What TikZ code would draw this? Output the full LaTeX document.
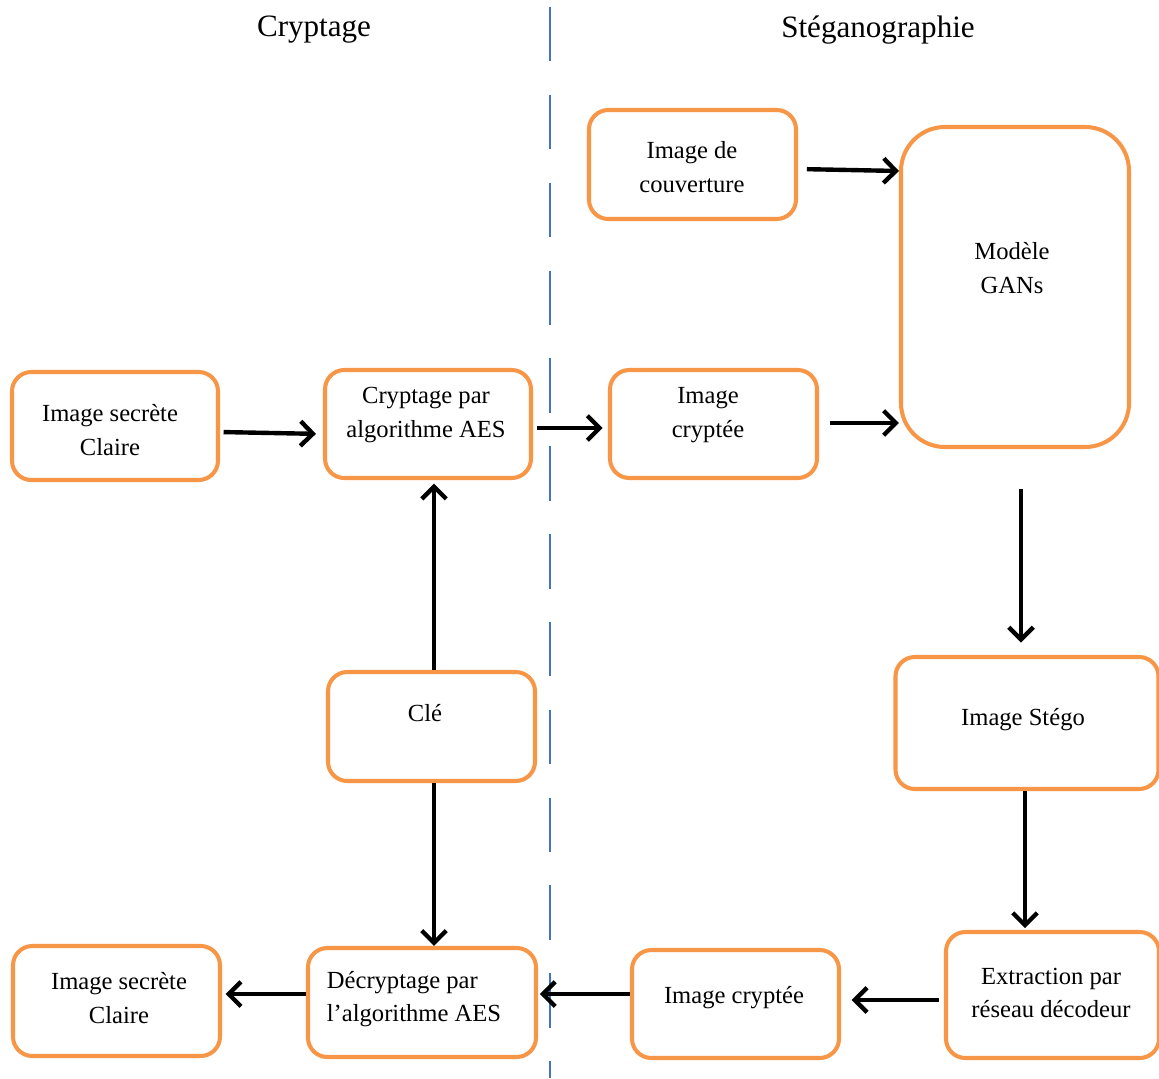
\documentclass[tikz,border=0pt]{standalone}
\usepackage{fontspec}
\setmainfont{Liberation Serif}
\usetikzlibrary{arrows.meta}
\definecolor{boxorange}{HTML}{F79646}
\definecolor{sepblue}{HTML}{4472C4}
\begin{document}
\begin{tikzpicture}[x=0.02cm,y=-0.02cm,
  box/.style={draw=boxorange, line width=2.3pt, rounded corners=11pt, fill=white, inner sep=0pt},
  txt/.style={font=\fontsize{14}{19}\selectfont, align=center, inner sep=0pt},
  ttl/.style={font=\fontsize{17.7}{21}\selectfont, inner sep=0pt},
  arr/.style={line width=2.5pt, -{Straight Barb[length=7pt,width=14pt,line width=2.5pt]}}]
\useasboundingbox (0,0) rectangle (1159,1078);
\fill[white] (0,0) rectangle (1159,1078);
% separator
\coordinate (septop) at (550,7);
\coordinate (sepbot) at (550,1078);
\draw[sepblue, line width=0.9pt, dash pattern=on 31pt off 19pt] (septop) -- (sepbot);
% titles
\node[ttl] (t1) at (314,30) {Cryptage};
\node[ttl] (t2) at (878,30) {Stéganographie};
% boxes
\node[box, minimum width=206*0.02cm, minimum height=108*0.02cm] (sec1) at (115,426) {};
\node[box, minimum width=206*0.02cm, minimum height=108*0.02cm] (crypt) at (428,424) {};
\node[box, minimum width=207*0.02cm, minimum height=108*0.02cm] (ctop) at (713.5,424) {};
\node[box, minimum width=207*0.02cm, minimum height=109*0.02cm] (couv) at (692.5,164.5) {};
\node[box, rounded corners=25pt, minimum width=228*0.02cm, minimum height=320*0.02cm] (gans) at (1015,287) {};
\node[box, minimum width=263*0.02cm, minimum height=132*0.02cm] (stego) at (1027,723) {};
\node[box, minimum width=213*0.02cm, minimum height=126*0.02cm] (extr) at (1052.5,995) {};
\node[box, minimum width=207*0.02cm, minimum height=108*0.02cm] (cbot) at (735.5,1004) {};
\node[box, minimum width=228*0.02cm, minimum height=109*0.02cm] (decr) at (422,1002.5) {};
\node[box, minimum width=207*0.02cm, minimum height=110*0.02cm] (sec2) at (116.5,1001) {};
\node[box, minimum width=207*0.02cm, minimum height=109*0.02cm] (cle) at (431.5,726.5) {};
% texts
\node[txt] (sec1t) at (110,430) {Image secrète\\Claire};
\node[txt] (cryptt) at (426,415) {Cryptage par\\algorithme AES};
\node[txt] (ctopt) at (708,415) {Image\\cryptée};
\node[txt] (couvt) at (692,167) {Image de\\couverture};
\node[txt] (ganst) at (1012,268) {Modèle\\GANs};
\node[txt] (stegot) at (1023,720) {Image Stégo};
\node[txt] (extrt) at (1051,993) {Extraction par\\réseau décodeur};
\node[txt] (cbott) at (734,998) {Image cryptée};
\node[txt, align=left] (decrt) at (414,999) {Décryptage par\\l’algorithme AES};
\node[txt] (sec2t) at (119,998) {Image secrète\\Claire};
\node[txt] (clet) at (425,713) {Clé};
% arrows
\draw[arr, shorten <=2pt, shorten >=4pt] (sec1.east |- 0,432) -- (crypt.west |- 0,434);
\draw[arr, shorten <=2pt, shorten >=3pt] (crypt.east |- 0,428) -- (ctop.west |- 0,428);
\draw[arr, shorten <=5pt] (couv.east |- 0,169) -- (gans.west |- 0,171);
\draw[arr, shorten <=6pt] (ctop.east |- 0,423) -- (gans.west |- 0,423);
\draw[arr, shorten >=2pt] ([xshift=2.5*0.02cm]cle.north) -- ([xshift=2.5*0.02cm]crypt.south -| cle.north);
\draw[arr] ([xshift=2.5*0.02cm]cle.south) -- ([xshift=2.5*0.02cm]decr.north -| cle.south);
\draw[arr, shorten <=23pt, shorten >=7pt] ([xshift=6*0.02cm]gans.south) -- ([xshift=6*0.02cm]stego.north -| gans.south);
\draw[arr, shorten >=1pt] ([xshift=-2*0.02cm]stego.south) -- ([xshift=-2*0.02cm]extr.north -| stego.south);
\draw[arr, shorten <=3pt, shorten >=6pt] (extr.west |- 0,1000) -- (cbot.east |- 0,1000);
\draw[arr, shorten >=1pt] (cbot.west |- 0,994) -- (decr.east |- 0,994);
\draw[arr, shorten >=2pt] (decr.west |- 0,994) -- (sec2.east |- 0,994);
\end{tikzpicture}
\end{document}
